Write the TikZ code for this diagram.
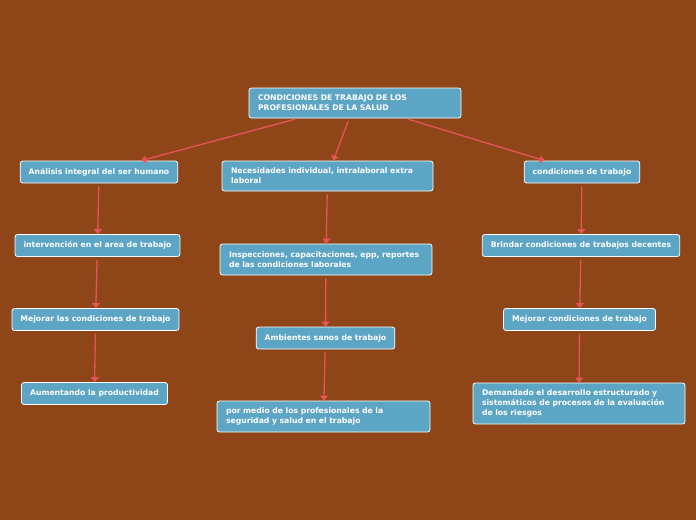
\documentclass[tikz,border=0pt]{standalone}
\usepackage{fontspec}
\setmainfont{DejaVu Sans}
\usetikzlibrary{arrows.meta}
\definecolor{fondo}{HTML}{8E4517}
\definecolor{azulcaja}{HTML}{5DA5C5}
\definecolor{rojoflecha}{HTML}{E8535C}

\begin{document}
\begin{tikzpicture}[x=1pt,y=-1pt,
  caja/.style={draw=white,line width=0.8pt,fill=azulcaja,rounded corners=2.5pt,text=white,
    font=\bfseries\fontsize{7.7}{10}\selectfont,inner xsep=8.5pt,inner ysep=2pt,minimum height=22pt,align=center},
  cajalarga/.style={caja,align=left,text width=#1,inner xsep=9pt},
  flecha/.style={draw=rojoflecha,line width=1.3pt,-{Triangle[width=8pt,length=5pt]},shorten <=3pt}]
  \fill[fondo] (0,0) rectangle (696,520); % 背景（茶色）
  \node[cajalarga=194pt,minimum height=30pt] (raiz) at (355,103)
    {CONDICIONES DE TRABAJO DE LOS\\PROFESIONALES DE LA SALUD}; % 中心のテーマ
  % 左の列
  \node[caja] (a1) at (99,172) {Análisis integral del ser humano};
  \node[caja] (a2) at (97.5,245.5) {intervención en el area de trabajo};
  \node[caja] (a3) at (95.5,319.5) {Mejorar las condiciones de trabajo};
  \node[caja] (a4) at (94.5,393.5) {Aumentando la productividad};
  % 中央の列
  \node[cajalarga=193pt,minimum height=30pt] (b1) at (327.5,176)
    {Necesidades individual, intralaboral extra\\laboral};
  \node[cajalarga=194pt,minimum height=31pt] (b2) at (326,259.5)
    {Inspecciones, capacitaciones, epp, reportes\\de las condiciones laborales};
  \node[caja] (b3) at (325.5,338) {Ambientes sanos de trabajo};
  \node[cajalarga=195pt,minimum height=31pt] (b4) at (323.5,416.5)
    {por medio de los profesionales de la\\seguridad y salud en el trabajo};
  % 右の列
  \node[caja] (c1) at (582,172) {condiciones de trabajo};
  \node[caja] (c2) at (581,245.5) {Brindar condiciones de trabajos decentes};
  \node[caja] (c3) at (579.5,319.5) {Mejorar condiciones de trabajo};
  \node[cajalarga=194pt,minimum height=41pt] (c4) at (579,403.5)
    {Demandado el desarrollo estructurado y\\sistemáticos de procesos de la evaluación\\de los riesgos};
  % 矢印
  \foreach \de/\a in {raiz/a1,raiz/b1,raiz/c1,a1/a2,a2/a3,a3/a4,b1/b2,b2/b3,b3/b4,c1/c2,c2/c3,c3/c4}
    \draw[flecha] (\de) -- (\a);
\end{tikzpicture}
\end{document}
